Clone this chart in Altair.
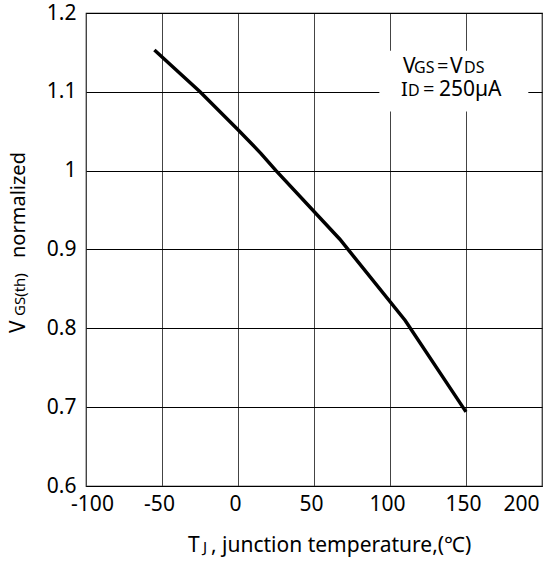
import altair as alt
import pandas as pd

FONT = "Noto Sans"

# Normalized gate threshold voltage vs. junction temperature
temp_c = [-55, -25, 0, 15, 25, 67, 110, 150]
vth_norm = [1.153, 1.10, 1.052, 1.022, 1.0, 0.913, 0.81, 0.694]

x_ticks = [-100, -75, -50, -25, 0, 25, 50, 75, 100, 125, 150, 175, 200]
y_ticks = [0.6, 0.7, 0.8, 0.9, 1.0, 1.1, 1.2]

# white backing behind the test-condition note
note_x = [93]
note_x2 = [191]
note_y = [1.075]
note_y2 = [1.152]

curve = pd.DataFrame({"t": temp_c, "v": vth_norm})
note_box = pd.DataFrame({"x": note_x, "x2": note_x2, "y": note_y, "y2": note_y2})

xscale = alt.Scale(domain=[-100, 200], nice=False)
yscale = alt.Scale(domain=[0.6, 1.2], nice=False, zero=False)

axes = alt.Chart(curve).mark_point(opacity=0).encode(
    x=alt.X("t:Q", scale=xscale, title=None,
            axis=alt.Axis(
                values=x_ticks, grid=True, gridColor="#444", gridWidth=1,
                labelExpr="datum.value % 50 == 0 ? '' + datum.value : ''",
                labelAlign={"condition": {"test": "datum.value == 200", "value": "right"},
                            "value": "center"},
                labelOffset={"condition": {"test": "datum.value == -100", "value": 6},
                             "value": -3},
            )),
    y=alt.Y("v:Q", scale=yscale, title=None,
            axis=alt.Axis(values=y_ticks, grid=True, gridColor="#000", gridWidth=1,
                          labelExpr="format(datum.value, '.1~f')")),
)

box = alt.Chart(note_box).mark_rect(color="white").encode(
    x=alt.X("x:Q", scale=xscale), x2="x2:Q",
    y=alt.Y("y:Q", scale=yscale), y2="y2:Q",
)

line = alt.Chart(curve).mark_line(color="black", strokeWidth=3.5).encode(
    x=alt.X("t:Q", scale=xscale),
    y=alt.Y("v:Q", scale=yscale),
)


def txt(s, x, y, size, angle=0):
    return alt.Chart(alt.Data(values=[{}])).mark_text(
        text=s, align="left", baseline="alphabetic", fontSize=size,
        font=FONT, color="black", angle=angle,
    ).encode(x=alt.value(x), y=alt.value(y))


labels = [
    # test conditions
    txt("V", 317, 60, 21), txt("GS", 328, 60, 16), txt("=", 351, 60, 20),
    txt("V", 364, 60, 21), txt("DS", 378, 60, 16),
    txt("I", 315, 83, 20), txt("D", 322, 83, 16), txt("=", 337, 83, 20),
    txt("250µA", 353, 83, 21),
    # x axis title
    txt("T", 102, 539, 21), txt("J", 117, 539, 15),
    txt(", junction temperature,(℃)", 125, 539, 21),
    # y axis title
    txt("V", -61, 320, 21, 270), txt("GS(th)", -61, 303, 15, 270),
    txt("normalized", -61, 245, 20, 270),
]

chart = alt.layer(axes, box, line, *labels).properties(
    width=456, height=473,
    autosize=alt.AutoSizeParams(type="none"),
    padding={"left": 86, "top": 13, "right": 4, "bottom": 77},
).configure_view(stroke="black", strokeWidth=1.2).configure_axis(
    domain=False, ticks=False, labelFont=FONT, labelFontSize=21,
    labelColor="black",
).configure_axisX(labelPadding=7).configure_axisY(labelPadding=10)

chart.save("out.html", embed_options={"renderer": "svg", "actions": False})
